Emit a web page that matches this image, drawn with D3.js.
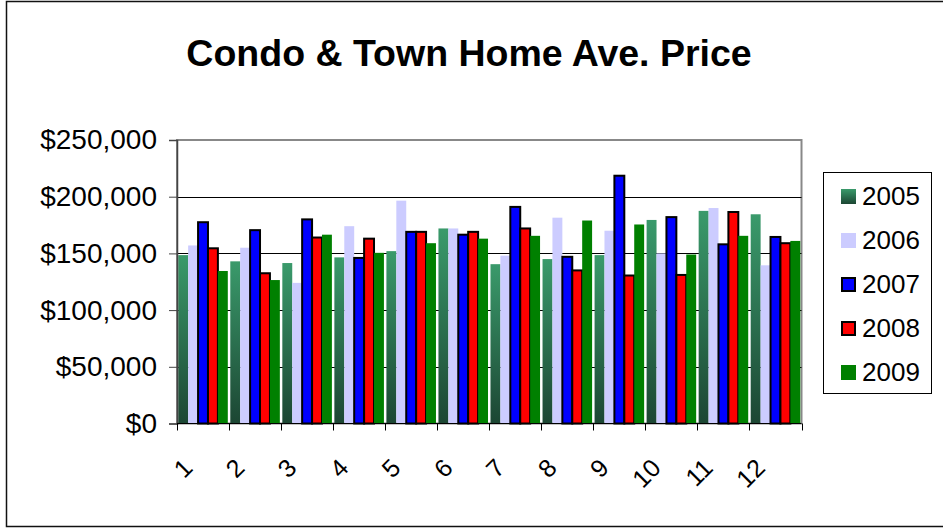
<!DOCTYPE html>
<html>
<head>
<meta charset="utf-8">
<script src="https://cdn.jsdelivr.net/npm/d3@7"></script>
<style>
  body { margin: 0; background: #fff; }
  svg { display: block; font-family: "Liberation Sans", Arial, sans-serif; }
</style>
</head>
<body>
<div class="chart"></div>
<script>
var months = ["1", "2", "3", "4", "5", "6", "7", "8", "9", "10", "11", "12"];
var years = ["2005", "2006", "2007", "2008", "2009"];
var price2005 = [148500, 143000, 141500, 146500, 152000, 172000, 140500, 145000, 148500, 179500, 187500, 184500];
var price2006 = [157000, 155000, 124000, 174000, 196500, 172000, 148000, 181500, 170000, 150000, 190000, 139500];
var price2007 = [177500, 170500, 180000, 146000, 169000, 166500, 191000, 147000, 218500, 182000, 158000, 164500];
var price2008 = [154500, 132500, 164000, 163000, 169000, 169000, 172000, 135000, 130500, 131000, 186500, 159000];
var price2009 = [134500, 126500, 166500, 150500, 159000, 163000, 165500, 179000, 175500, 149000, 165500, 161000];
var yTicks = [0, 50000, 100000, 150000, 200000, 250000];

var series = [price2005, price2006, price2007, price2008, price2009];
var fills = ["url(#g2005)", "#ccccff", "#0000ff", "#ff0000", "#008000"];
var strokes = [null, null, "#000", "#000", null];

var W = 943, H = 529;
var plot = { left: 177, right: 801.5, top: 140, bottom: 423.5 };

var svg = d3.select(".chart").append("svg")
    .attr("width", W)
    .attr("height", H);

var grad = svg.append("defs").append("linearGradient")
    .attr("id", "g2005")
    .attr("x1", 0).attr("y1", 0)
    .attr("x2", 0).attr("y2", 1);
grad.append("stop").attr("offset", "0%").attr("stop-color", "#3a9a6b");
grad.append("stop").attr("offset", "100%").attr("stop-color", "#1c4633");

// outer frame
svg.append("rect")
    .attr("x", 6.5).attr("y", 1.5)
    .attr("width", W).attr("height", 525)
    .attr("fill", "#fff")
    .attr("stroke", "#111")
    .attr("stroke-width", 1.5);

svg.append("text")
    .attr("x", 469)
    .attr("y", 66)
    .attr("text-anchor", "middle")
    .style("font-size", "37.5px")
    .style("font-weight", "bold")
    .text("Condo & Town Home Ave. Price");

var x0 = d3.scaleBand()
    .domain(months)
    .range([plot.left, plot.right]);

var x1 = d3.scaleBand()
    .domain(years)
    .range([0, x0.bandwidth()])
    .paddingOuter(0.125);

var y = d3.scaleLinear()
    .domain([0, 250000])
    .range([plot.bottom, plot.top]);

// plot frame
svg.append("rect")
    .attr("x", plot.left).attr("y", plot.top)
    .attr("width", plot.right - plot.left)
    .attr("height", plot.bottom - plot.top)
    .attr("fill", "#fff")
    .attr("stroke", "#888")
    .attr("stroke-width", 2);

svg.append("g")
    .selectAll("line")
    .data(yTicks.filter(function (d) { return d > 0 && d < 250000; }))
    .enter().append("line")
    .attr("x1", plot.left).attr("x2", plot.right)
    .attr("y1", function (d) { return Math.round(y(d)) + 0.5; })
    .attr("y2", function (d) { return Math.round(y(d)) + 0.5; })
    .attr("stroke", "#000")
    .attr("stroke-width", 1);

var groups = svg.append("g")
    .selectAll("g")
    .data(months)
    .enter().append("g")
    .attr("transform", function (d) { return "translate(" + x0(d) + ",0)"; });

groups.selectAll("rect")
    .data(function (m, i) {
        return years.map(function (yr, k) { return { year: yr, k: k, value: series[k][i] }; });
    })
    .enter().append("rect")
    .attr("x", function (d) { return x1(d.year); })
    .attr("width", x1.bandwidth())
    .attr("y", function (d) { return y(d.value); })
    .attr("height", function (d) { return y(0) - y(d.value); })
    .attr("fill", function (d) { return fills[d.k]; })
    .attr("stroke", function (d) { return strokes[d.k]; })
    .attr("stroke-width", function (d) { return strokes[d.k] ? 2 : 0; });

// y axis
var yAxis = svg.append("g")
    .attr("transform", "translate(" + plot.left + ",0)")
    .call(d3.axisLeft(y)
        .tickValues(yTicks)
        .tickSize(8)
        .tickPadding(12)
        .tickFormat(function (d) { return "$" + d3.format(",")(d); }));
yAxis.select(".domain").attr("stroke", "#444").attr("stroke-width", 1.5);
yAxis.selectAll(".tick line").attr("stroke", "#444");
yAxis.selectAll("text")
    .attr("fill", "#000")
    .style("font-size", "28px")
    .style("font-family", "'Liberation Sans', Arial, sans-serif");

// x axis
var xAxis = svg.append("g")
    .attr("transform", "translate(0," + plot.bottom + ")");
xAxis.append("line")
    .attr("x1", plot.left).attr("x2", plot.right)
    .attr("stroke", "#000");
xAxis.selectAll(".tk")
    .data(months.concat(["end"]))
    .enter().append("line")
    .attr("class", "tk")
    .attr("x1", function (d, i) { return Math.round(plot.left + i * x0.step()) + 0.5; })
    .attr("x2", function (d, i) { return Math.round(plot.left + i * x0.step()) + 0.5; })
    .attr("y1", 0).attr("y2", 7)
    .attr("stroke", "#000");
xAxis.selectAll(".lbl")
    .data(months)
    .enter().append("text")
    .attr("class", "lbl")
    .attr("transform", function (d) {
        return "translate(" + (x0(d) + x0.bandwidth() / 2 - 9) + ",46) rotate(-45)";
    })
    .attr("text-anchor", "end")
    .style("font-size", "25px")
    .text(function (d) { return d; });

// legend
var legend = svg.append("g");
legend.append("rect")
    .attr("x", 823.5).attr("y", 172.5)
    .attr("width", 108).attr("height", 221)
    .attr("fill", "#fff")
    .attr("stroke", "#000");
var item = legend.selectAll(".item")
    .data(years)
    .enter().append("g")
    .attr("class", "item")
    .attr("transform", function (d, i) { return "translate(0," + (196 + i * 44) + ")"; });
item.append("rect")
    .attr("x", function (d, i) { return strokes[i] ? 842 : 841; })
    .attr("y", function (d, i) { return strokes[i] ? -6 : -7; })
    .attr("width", function (d, i) { return strokes[i] ? 13 : 15; })
    .attr("height", function (d, i) { return strokes[i] ? 13 : 15; })
    .attr("fill", function (d, i) { return fills[i]; })
    .attr("stroke", function (d, i) { return strokes[i]; })
    .attr("stroke-width", 2);
item.append("text")
    .attr("x", 862)
    .attr("y", 0)
    .attr("dy", "0.35em")
    .style("font-size", "26px")
    .text(function (d) { return d; });
</script>
</body>
</html>
